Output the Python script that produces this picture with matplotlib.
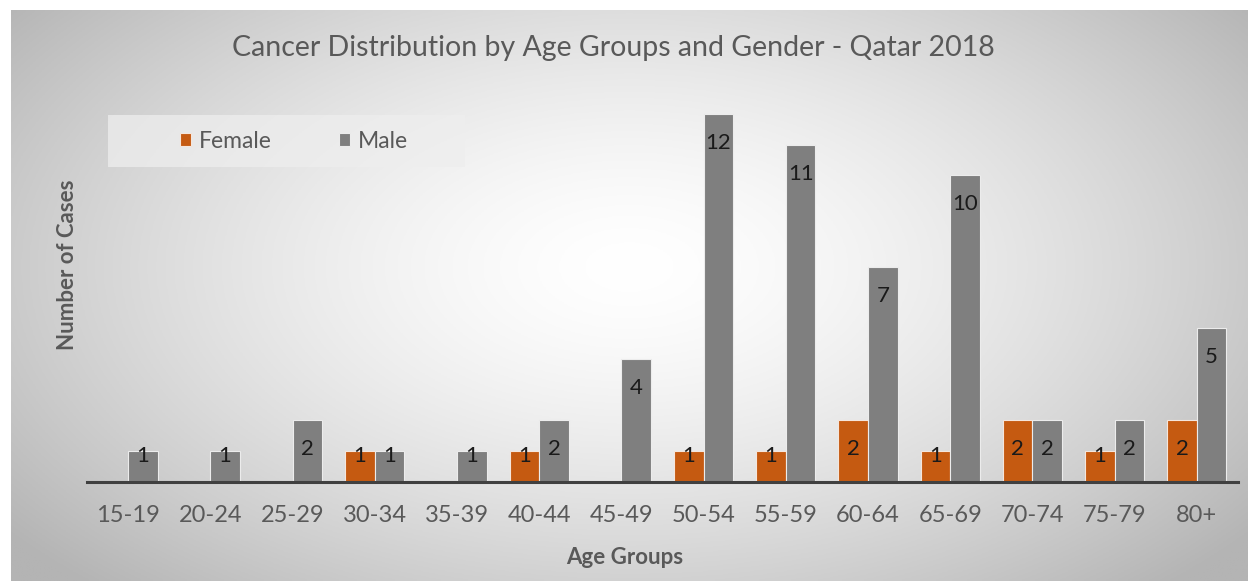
import numpy as np
import matplotlib
matplotlib.use("Agg")
import matplotlib.pyplot as plt
from matplotlib.patches import Rectangle

plt.rcParams['font.family'] = ['Lato', 'DejaVu Sans']

age_groups = ["15-19", "20-24", "25-29", "30-34", "35-39", "40-44", "45-49",
              "50-54", "55-59", "60-64", "65-69", "70-74", "75-79", "80+"]
female = [0, 0, 0, 1, 0, 1, 0, 1, 1, 2, 1, 2, 1, 2]
male = [1, 1, 2, 1, 1, 2, 4, 12, 11, 7, 10, 2, 2, 5]

FEMALE_COLOR = "#C55A11"
MALE_COLOR = "#7F7F7F"
TEXT_COLOR = "#595959"

W, H = 1248, 581
fig = plt.figure(figsize=(W / 100, H / 100), dpi=100, facecolor="white")

# radial grey-to-white backdrop
bg = fig.add_axes([11 / W, 0, 1 - 11 / W, 1 - 10 / H])
bg.set_axis_off()
gx, gy = np.meshgrid(np.linspace(0, 1, 400), np.linspace(0, 1, 200))
r = np.sqrt(((gx - 0.5) / 0.62) ** 2 + ((gy - 0.45) / 0.75) ** 2)
shade = 255 - 72 * np.clip(r, 0, 1.2) ** 1.5
shade = np.clip(shade, 180, 255) / 255.0
bg.imshow(np.dstack([shade] * 3), extent=[0, 1, 0, 1], aspect="auto", origin="upper")
bg.set_xlim(0, 1)
bg.set_ylim(0, 1)

ax = fig.add_axes([87 / W, 1 - 481.5 / H, (1238 - 87) / W, (481.5 - 52.6) / H])
ax.patch.set_alpha(0)

x = np.arange(len(age_groups))
bw = 0.36
fb = ax.bar(x - bw / 2, female, bw, color=FEMALE_COLOR, edgecolor="#f5e6dc",
            linewidth=0.8, label="Female", zorder=2)
mb = ax.bar(x + bw / 2, male, bw, color=MALE_COLOR, edgecolor="#ececec",
            linewidth=0.8, label="Male", zorder=2)

# value labels just inside the top of each bar
for bars, vals in ((fb, female), (mb, male)):
    for b, v in zip(bars, vals):
        if v == 0:
            continue
        ax.text(b.get_x() + b.get_width() / 2, max(v - 0.95, 0.83), str(v),
                ha="center", va="center", fontsize=16, color="#1a1a1a", zorder=3)

ax.set_xlim(-0.5, len(age_groups) - 0.5)
ax.set_ylim(0, 14)
ax.set_xticks(x)
ax.set_xticklabels(age_groups, fontsize=17, color=TEXT_COLOR)
ax.tick_params(axis="x", length=0, pad=17)
ax.set_yticks([])
for s in ("top", "right", "left"):
    ax.spines[s].set_visible(False)
ax.spines["bottom"].set_color("#404040")
ax.spines["bottom"].set_linewidth(2.2)

fig.text(625 / W, 1 - 557 / H, "Age Groups", ha="center", va="center",
         fontsize=16, fontweight="bold", color=TEXT_COLOR)
fig.text(68 / W, 1 - 265 / H, "Number of Cases", ha="center", va="center",
         rotation=90, fontsize=16, fontweight="bold", color=TEXT_COLOR)
fig.text(613 / W, 1 - 48 / H, "Cancer Distribution by Age Groups and Gender - Qatar 2018",
         ha="center", va="center", fontsize=20.5, color=TEXT_COLOR)

# legend panel
fig.patches.append(Rectangle((108 / W, 1 - 167 / H), (465 - 108) / W, 52 / H,
                             transform=fig.transFigure, facecolor="#eeeeee",
                             alpha=0.75, edgecolor="none", zorder=1))
fig.legend(handles=[fb, mb], labels=["Female", "Male"], loc="center",
           bbox_to_anchor=(294 / W, 1 - 141 / H), ncol=2, frameon=False,
           fontsize=16.5, labelcolor=TEXT_COLOR, handlelength=0.5, handleheight=0.5,
           handletextpad=0.35, columnspacing=2.9)

fig.savefig("out.png", dpi=100, facecolor="white")
